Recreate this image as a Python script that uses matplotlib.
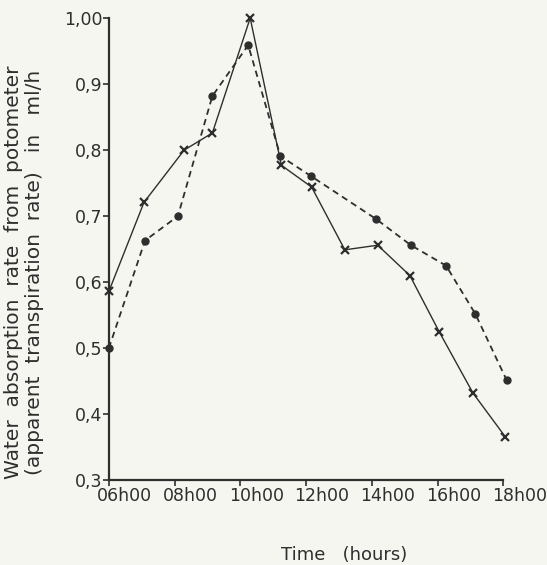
import numpy as np
import matplotlib.pyplot as plt
import matplotlib.transforms as mtransforms

# readings taken from the figure (hours, ml/h)
hours_cross = [6.0, 7.07, 8.29, 9.15, 10.3, 11.25, 12.17, 13.18, 14.18, 15.16, 16.05, 17.08, 18.06]
rate_cross = [0.586, 0.721, 0.800, 0.826, 1.000, 0.777, 0.744, 0.649, 0.656, 0.610, 0.525, 0.432, 0.366]

hours_dot = [6.0, 7.1, 8.1, 9.15, 10.24, 11.22, 12.14, 14.12, 15.19, 16.26, 17.15, 18.1]
rate_dot = [0.500, 0.663, 0.700, 0.882, 0.959, 0.791, 0.761, 0.696, 0.656, 0.625, 0.552, 0.452]

xticks = [6, 8, 10, 12, 14, 16, 18]
xticklabels = ['06h00', '08h00', '10h00', '12h00', '14h00', '16h00', '18h00']
yticks = [0.3, 0.4, 0.5, 0.6, 0.7, 0.8, 0.9, 1.0]
yticklabels = ['0,3', '0,4', '0,5', '0,6', '0,7', '0,8', '0,9', '1,00']

bg = '#f6f6f1'
ink = '#2e2e2e'
plt.rcParams['font.family'] = ['DejaVu Sans']

fig = plt.figure(figsize=(5.47, 5.65), dpi=100, facecolor=bg)
ax = fig.add_axes([0.199, 0.150, 0.721, 0.818])
ax.set_facecolor(bg)

ax.plot(hours_cross, rate_cross, color=ink, lw=1.0, marker='x', ms=6, mew=1.6, clip_on=False)
ax.plot(hours_dot, rate_dot, color=ink, lw=1.3, ls=(0, (3.5, 2.5)), marker='o', ms=5, clip_on=False)

ax.set_xlim(6, 18)
ax.set_ylim(0.3, 1.0)
ax.set_xticks(xticks)
ax.set_xticklabels(xticklabels)
ax.set_yticks(yticks)
ax.set_yticklabels(yticklabels)

for s in ['top', 'right']:
    ax.spines[s].set_visible(False)
for s in ['left', 'bottom']:
    ax.spines[s].set_color(ink)
    ax.spines[s].set_linewidth(1.6)
ax.tick_params(axis='both', direction='out', length=4, width=1.2, colors=ink, labelsize=12.5)
ax.tick_params(axis='y', pad=0.5)
ax.tick_params(axis='x', pad=1)

# tick labels in the original sit a little right of their ticks
shift = mtransforms.ScaledTranslation(16 / 100, 0, fig.dpi_scale_trans)
for lab in ax.get_xticklabels():
    lab.set_transform(lab.get_transform() + shift)

ax.set_ylabel('Water  absorption  rate  from  potometer\n(apparent  transpiration  rate)   in   ml/h',
              fontsize=14.5, color=ink, linespacing=1.12)
ax.yaxis.set_label_coords(-0.165, 0.45)
fig.text(0.629, 0.009, 'Time   (hours)', fontsize=13, color=ink, ha='center', va='baseline')

fig.savefig('out.png', dpi=100, facecolor=bg)
